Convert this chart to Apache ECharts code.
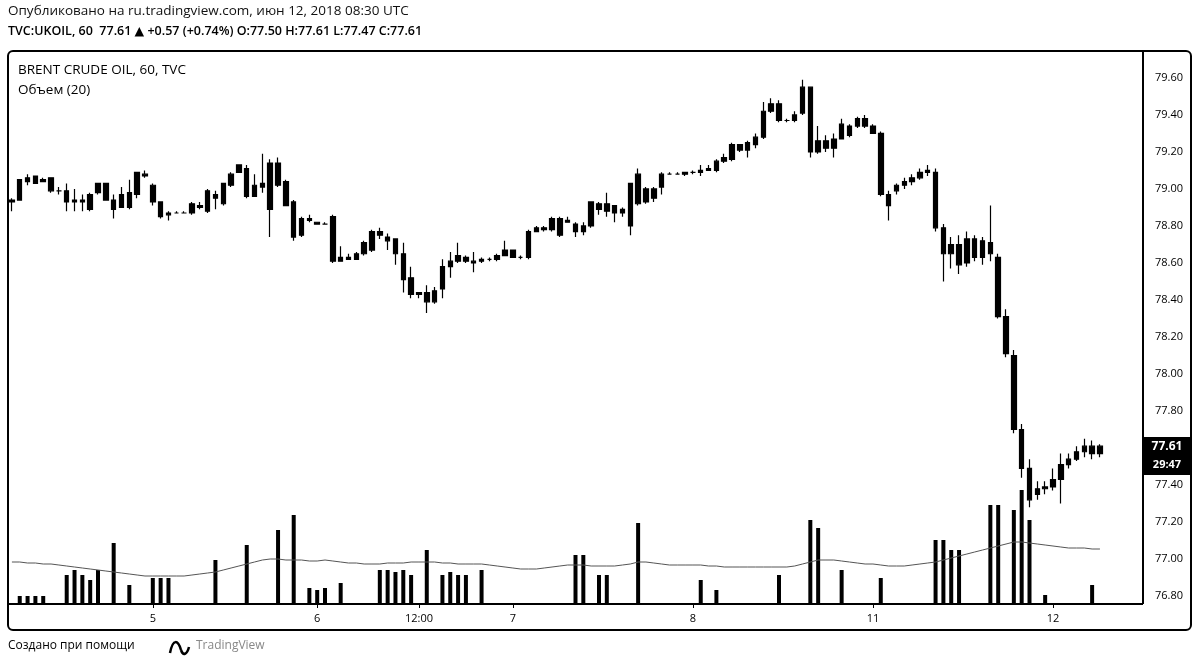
<!DOCTYPE html>
<html><head><meta charset="utf-8">
<script src="https://cdn.jsdelivr.net/npm/echarts@6/dist/echarts.min.js"></script>
<style>html,body{margin:0;padding:0;background:#fff}#c{width:1200px;height:671px}</style>
</head><body><div id="c"></div>
<script>
// ---- DATA (Brent Crude Oil, 60 min, TVC) ----
const opens = [78.93,78.94,79.04,79.07,79.04,79.06,78.99,78.99,78.93,78.94,
78.89,78.98,79.03,78.94,78.90,78.90,78.97,79.08,79.02,78.93,
78.86,78.87,78.87,78.87,78.91,78.88,78.95,78.92,79.02,79.09,
79.11,78.96,79.01,78.89,79.14,79.04,78.93,78.75,78.84,78.82,
78.81,78.85,78.61,78.63,78.62,78.65,78.67,78.77,78.74,78.73,
78.65,78.52,78.43,78.44,78.39,78.46,78.58,78.61,78.63,78.61,
78.61,78.62,78.62,78.64,78.67,78.63,78.63,78.77,78.79,78.78,
78.84,78.82,78.81,78.77,78.80,78.92,78.88,78.91,78.87,78.80,
79.08,78.93,79.00,79.01,79.08,79.08,79.08,79.09,79.09,79.10,
79.10,79.15,79.16,79.24,79.21,79.24,79.28,79.42,79.46,79.37,
79.37,79.41,79.55,79.20,79.26,79.22,79.27,79.34,79.34,79.38,
79.34,79.30,78.97,78.99,79.02,79.04,79.06,79.09,79.09,78.79,
78.65,78.70,78.60,78.73,78.63,78.71,78.63,78.31,78.10,77.70,
77.49,77.35,77.38,77.39,77.43,77.51,77.54,77.58,77.61,77.57];
const closes = [78.94,79.05,79.06,79.03,79.05,78.99,78.99,78.93,78.94,78.93,
78.97,79.03,78.94,78.89,78.97,78.98,79.09,79.07,78.93,78.85,
78.87,78.87,78.87,78.92,78.90,78.99,78.97,79.03,79.08,79.13,
78.96,79.02,79.03,79.14,79.02,78.91,78.74,78.84,78.83,78.81,
78.81,78.61,78.63,78.62,78.65,78.71,78.77,78.75,78.72,78.65,
78.51,78.43,78.44,78.39,78.45,78.58,78.61,78.64,78.61,78.60,
78.62,78.62,78.64,78.67,78.63,78.63,78.77,78.79,78.78,78.84,
78.75,78.83,78.77,78.80,78.93,78.89,78.92,78.87,78.89,79.03,
78.92,79.00,78.95,79.08,79.08,79.08,79.09,79.09,79.10,79.11,
79.15,79.17,79.24,79.21,79.25,79.28,79.42,79.46,79.37,79.37,
79.40,79.55,79.20,79.26,79.22,79.27,79.35,79.29,79.38,79.34,
79.30,78.97,78.91,79.02,79.04,79.06,79.09,79.10,78.79,78.65,
78.70,78.59,78.73,78.63,78.72,78.65,78.31,78.11,77.70,77.49,
77.32,77.38,77.39,77.43,77.51,77.54,77.58,77.61,77.57,77.61];
const lows = [78.88,78.94,79.02,79.03,79.04,78.98,78.97,78.88,78.88,78.88,
78.88,78.97,78.94,78.84,78.90,78.89,78.95,79.06,78.91,78.84,
78.83,78.87,78.87,78.86,78.89,78.87,78.89,78.91,79.01,79.09,
78.95,78.96,78.98,78.74,79.01,78.91,78.72,78.74,78.82,78.81,
78.81,78.60,78.61,78.62,78.62,78.64,78.66,78.73,78.67,78.59,
78.44,78.41,78.41,78.33,78.38,78.41,78.52,78.60,78.60,78.55,
78.60,78.61,78.61,78.64,78.63,78.62,78.62,78.77,78.77,78.77,
78.74,78.82,78.74,78.75,78.79,78.86,78.85,78.82,78.85,78.75,
78.91,78.92,78.93,78.97,79.08,79.08,79.07,79.08,79.07,79.10,
79.09,79.14,79.15,79.20,79.17,79.22,79.27,79.41,79.36,79.36,
79.36,79.40,79.17,79.19,79.20,79.17,79.27,79.28,79.33,79.33,
79.30,78.96,78.83,78.97,79.00,79.02,79.05,79.07,78.77,78.50,
78.57,78.54,78.58,78.61,78.59,78.61,78.30,78.09,77.68,77.44,
77.28,77.32,77.35,77.37,77.30,77.49,77.53,77.55,77.54,77.55];
const highs = [78.95,79.05,79.08,79.07,79.06,79.06,79.01,79.03,79.00,78.97,
78.98,79.03,79.03,78.97,79.01,79.05,79.09,79.10,79.03,78.93,
78.88,78.88,78.88,78.93,78.93,79.00,78.99,79.03,79.09,79.13,
79.13,79.08,79.19,79.16,79.17,79.05,78.94,78.85,78.86,78.82,
78.82,78.86,78.69,78.65,78.66,78.72,78.78,78.79,78.76,78.73,
78.71,78.58,78.44,78.48,78.47,78.62,78.66,78.71,78.64,78.66,
78.63,78.63,78.65,78.72,78.67,78.64,78.78,78.80,78.80,78.85,
78.85,78.85,78.82,78.82,78.93,78.93,78.98,78.91,78.90,79.03,
79.11,79.01,79.01,79.09,79.09,79.09,79.09,79.10,79.13,79.13,
79.16,79.19,79.25,79.24,79.26,79.30,79.47,79.49,79.48,79.38,
79.42,79.59,79.55,79.34,79.29,79.30,79.38,79.35,79.39,79.40,
79.35,79.31,78.99,79.03,79.06,79.08,79.11,79.13,79.11,78.81,
78.74,78.75,78.77,78.75,78.74,78.91,78.65,78.35,78.13,77.73,
77.54,77.42,77.42,77.49,77.57,77.57,77.61,77.65,77.64,77.62];
const volumes = [0,8,8,8,8,0,0,29,34,29, 24,34,0,61,0,19,0,0,26,26,
26,0,0,0,0,0,44,0,0,0, 59,0,0,0,74,0,89,0,16,14,
16,0,21,0,0,0,0,34,34,32, 34,29,0,54,0,29,32,29,29,0,
34,0,0,0,0,0,0,0,0,0, 0,0,49,49,0,29,29,0,0,0,
81,0,0,0,0,0,0,0,24,0, 14,0,0,0,0,0,0,0,29,0,
0,0,84,76,0,0,34,0,0,0, 0,26,0,0,0,0,0,0,64,64,
54,54,0,0,0,99,99,0,94,114, 84,0,9,0,0,0,0,0,19,0];
const volumeMA = [42,42,41,41,40,40, 39,38,37,36,35,34,33,
32,31,30,29,28,28,28,28,28,28,29,30,31,
32,34,36,38,40,42,44,45,45,44,44,44,43,43,44,
43,42,41,41,40,40,40,41,41,41,42,42,42,42,41,41,40,40,40,40,
39,38,37,36,35,35,35,36,37,38,39,39,39,38,38,38,38,39,40,42,
42,41,40,39,39,39,39,39,38,38,37,37,37,37,37,37,37,37,37,38,
40,42,44,44,44,43,42,41,40,40,39,38,38,38,39,40,41,42,44,46,
48,50,52,54,56,58,60,62,62,61,60,59,58,57,56,56,56,55,55];
const timeTicks = {18:'5', 39:'6', 52:'12:00', 64:'7', 87:'8', 110:'11', 133:'12'};
const slotCount = 145;
const lastPrice = '77.61';
const countdown = '29:47';

// ---- BUILD ----
const cats = [];
for (let i = 0; i < slotCount; i++) cats.push(String(i));
const candles = opens.map((o, i) => [o, closes[i], lows[i], highs[i]]);
const FONT = '"Open Sans","DejaVu Sans",sans-serif';
const isTick = (idx) => Object.prototype.hasOwnProperty.call(timeTicks, idx);

const chart = echarts.init(document.getElementById('c'), null, {renderer: 'canvas'});
chart.setOption({
  animation: false,
  backgroundColor: '#fff',
  textStyle: {fontFamily: FONT},
  grid: [
    {left: 8, right: 57, top: 40.93, bottom: 37.93},
    {left: 8, right: 57, top: 51, bottom: 67}
  ],
  xAxis: [
    {type: 'category', gridIndex: 0, data: cats, boundaryGap: true, show: false},
    {type: 'category', gridIndex: 1, data: cats, boundaryGap: true,
     axisLine: {show: false},
     axisTick: {show: true, alignWithLabel: true, interval: (i) => isTick(i), length: 4, lineStyle: {color: '#000'}},
     axisLabel: {interval: (i) => isTick(i), formatter: (v, i) => timeTicks[i] || '', color: '#000', fontSize: 11, margin: 9, fontFamily: FONT},
     splitLine: {show: false}}
  ],
  yAxis: [
    {type: 'value', gridIndex: 0, position: 'right', min: 76.6, max: 79.8, interval: 0.2,
     axisLine: {show: false}, axisTick: {show: false}, splitLine: {show: false},
     axisLabel: {showMinLabel: false, showMaxLabel: false, formatter: (v) => v.toFixed(2), color: '#000', fontSize: 11, margin: 12, fontFamily: FONT}},
    {type: 'value', gridIndex: 1, min: 0, max: 553, show: false}
  ],
  series: [
    {type: 'bar', xAxisIndex: 1, yAxisIndex: 1, data: volumes, barWidth: 4, z: 1,
     itemStyle: {color: '#000'}, silent: true},
    {type: 'line', xAxisIndex: 1, yAxisIndex: 1, data: volumeMA, symbol: 'none', z: 1,
     lineStyle: {color: '#555', width: 1}, silent: true},
    {type: 'candlestick', xAxisIndex: 0, yAxisIndex: 0, data: candles, barWidth: 5, z: 3,
     itemStyle: {color: '#000', color0: '#000', borderColor: '#000', borderColor0: '#000', borderWidth: 1.2}}
  ],
  graphic: [
    {type: 'text', x: 8, y: 4, z: 100, style: {text: 'Опубликовано на ru.tradingview.com, июн 12, 2018 08:30 UTC', font: '13.5px ' + FONT, fill: '#111'}},
    {type: 'text', x: 8, y: 25, z: 100, style: {text: 'TVC:UKOIL, 60  77.61 ▲ +0.57 (+0.74%) O:77.50 H:77.61 L:77.47 C:77.61', font: '600 12.5px ' + FONT, fill: '#000'}},
    {type: 'rect', z: 100, shape: {x: 8, y: 51, width: 1183, height: 579, r: 5}, style: {fill: 'none', stroke: '#000', lineWidth: 2}},
    {type: 'line', z: 100, shape: {x1: 1143, y1: 51, x2: 1143, y2: 604}, style: {stroke: '#000', lineWidth: 2}},
    {type: 'line', z: 100, shape: {x1: 8, y1: 604, x2: 1143, y2: 604}, style: {stroke: '#000', lineWidth: 2}},
    {type: 'text', x: 18, y: 63, z: 100, style: {text: 'BRENT CRUDE OIL, 60, TVC', font: '13.5px ' + FONT, fill: '#000'}},
    {type: 'text', x: 18, y: 83, z: 100, style: {text: 'Объем (20)', font: '13.5px ' + FONT, fill: '#000'}},
    {type: 'rect', z: 100, shape: {x: 1144, y: 437, width: 47, height: 38}, style: {fill: '#000'}},
    {type: 'text', z: 101, x: 1167, y: 447, style: {text: lastPrice, font: 'bold 12px ' + FONT, fill: '#fff', textAlign: 'center', textVerticalAlign: 'middle'}},
    {type: 'text', z: 101, x: 1167, y: 465, style: {text: countdown, font: 'bold 11px ' + FONT, fill: '#fff', textAlign: 'center', textVerticalAlign: 'middle'}},
    {type: 'text', x: 8, y: 640, z: 100, style: {text: 'Создано при помощи', font: '12px ' + FONT, fill: '#000'}},
    {type: 'bezierCurve', z: 100, shape: {x1: 170, y1: 653, x2: 181, y2: 650, cpx1: 173, cpy1: 638, cpx2: 178, cpy2: 640}, style: {stroke: '#000', lineWidth: 2.5, fill: 'none'}},
    {type: 'bezierCurve', z: 100, shape: {x1: 181, y1: 650, x2: 189, y2: 647, cpx1: 183, cpy1: 656, cpx2: 187, cpy2: 655}, style: {stroke: '#000', lineWidth: 2.5, fill: 'none'}},
    {type: 'text', x: 196, y: 640, z: 100, style: {text: 'TradingView', font: '12px ' + FONT, fill: '#888'}}
  ]
});
</script></body></html>
